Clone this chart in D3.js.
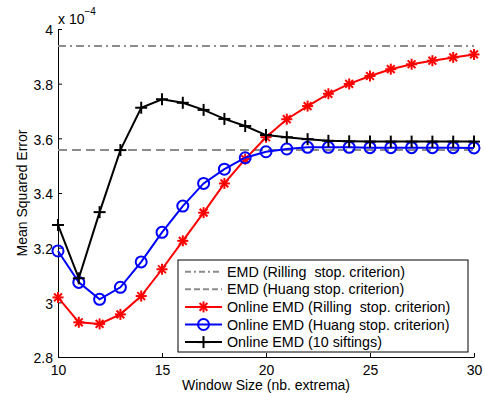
<!DOCTYPE html>
<html>
<head>
<meta charset="utf-8">
<script src="https://cdn.jsdelivr.net/npm/d3@7"></script>
<style>
  body { margin: 0; background: #fff; }
  svg text { font-family: "Liberation Sans", Arial, sans-serif; white-space: pre; }
</style>
</head>
<body>
<div id="chart"></div>
<script>
// Window sizes (nb. extrema)
const windowSizes = d3.range(10, 31);

// Mean squared error, in units of 1e-4
const onlineRilling = [3.018, 2.927, 2.921, 2.956, 3.023, 3.121, 3.225, 3.328, 3.435, 3.524,
    3.604, 3.670, 3.718, 3.763, 3.799, 3.828, 3.853, 3.871, 3.884, 3.896, 3.907];
const onlineHuang = [3.188, 3.073, 3.011, 3.055, 3.148, 3.256, 3.352, 3.435, 3.487, 3.529,
    3.551, 3.561, 3.567, 3.567, 3.567, 3.566, 3.566, 3.566, 3.566, 3.566, 3.565];
const onlineSift10 = [3.283, 3.088, 3.330, 3.557, 3.712, 3.743, 3.730, 3.704, 3.671, 3.645,
    3.612, 3.604, 3.597, 3.591, 3.589, 3.588, 3.588, 3.588, 3.588, 3.588, 3.588];
const emdRilling = 3.938;
const emdHuang = 3.557;

const xTicks = [10, 15, 20, 25, 30];
const yTicks = [2.8, 3, 3.2, 3.4, 3.6, 3.8, 4];

const legendLabels = [
    "EMD (Rilling  stop. criterion)",
    "EMD (Huang stop. criterion)",
    "Online EMD (Rilling  stop. criterion)",
    "Online EMD (Huang stop. criterion)",
    "Online EMD (10 siftings)"
];

const chartSettings = {
    width: 485,
    height: 393,
    left: 58,
    right: 474,
    top: 29,
    bottom: 357,
};

const x = d3.scaleLinear().domain([10, 30]).range([chartSettings.left, chartSettings.right]);
const y = d3.scaleLinear().domain([2.8, 4]).range([chartSettings.bottom, chartSettings.top]);

const svg = d3.select("#chart").append("svg")
    .attr("width", chartSettings.width)
    .attr("height", chartSettings.height);

// axes, ticks pointing inward
const xAxis = svg.append("g")
    .attr("transform", `translate(0,${chartSettings.bottom})`)
    .call(d3.axisBottom(x).tickValues(xTicks).tickSizeInner(-4).tickSizeOuter(0).tickPadding(8));
const yAxis = svg.append("g")
    .attr("transform", `translate(${chartSettings.left},0)`)
    .call(d3.axisLeft(y).tickValues(yTicks).tickSizeInner(-4).tickSizeOuter(0).tickPadding(5)
        .tickFormat(d3.format("~g")));

[xAxis, yAxis].forEach(a => {
    a.select(".domain").attr("stroke", "#000").attr("stroke-width", 1);
    a.selectAll(".tick line").attr("stroke", "#000");
    a.selectAll(".tick text").attr("font-size", 14).attr("fill", "#000");
});
yAxis.selectAll(".tick text").attr("dy", "0.42em");

// exponent label
const expo = svg.append("text")
    .attr("x", chartSettings.left)
    .attr("y", 24)
    .attr("font-size", 14);
expo.append("tspan").text("x 10");
expo.append("tspan").attr("dy", -9).attr("font-size", 10).text("\u22124");

// axis titles
svg.append("text")
    .attr("x", 266)
    .attr("y", 390)
    .attr("text-anchor", "middle")
    .attr("font-size", 14)
    .text("Window Size (nb. extrema)");

svg.append("text")
    .attr("transform", `translate(27,${(chartSettings.top + chartSettings.bottom) / 2}) rotate(-90)`)
    .attr("text-anchor", "middle")
    .attr("font-size", 14)
    .text("Mean Squared Error");

// reference lines
svg.append("line")
    .attr("x1", x(10)).attr("x2", x(30))
    .attr("y1", y(emdRilling)).attr("y2", y(emdRilling))
    .attr("stroke", "#8c8c8c").attr("stroke-width", 2)
    .attr("stroke-dasharray", "8,4,2,4");
svg.append("line")
    .attr("x1", x(10)).attr("x2", x(30))
    .attr("y1", y(emdHuang)).attr("y2", y(emdHuang))
    .attr("stroke", "#8c8c8c").attr("stroke-width", 2)
    .attr("stroke-dasharray", "9,5");

const line = d3.line().x((d, i) => x(windowSizes[i])).y(d => y(d));

// marker drawers
const markers = {
    star: (g, cx, cy, color) => {
        const r = 5.5;
        [0, 45, 90, 135].forEach(a => {
            const rad = a * Math.PI / 180;
            g.append("line")
                .attr("x1", cx - r * Math.cos(rad)).attr("y1", cy - r * Math.sin(rad))
                .attr("x2", cx + r * Math.cos(rad)).attr("y2", cy + r * Math.sin(rad))
                .attr("stroke", color).attr("stroke-width", 2);
        });
    },
    circle: (g, cx, cy, color) => {
        g.append("circle").attr("cx", cx).attr("cy", cy).attr("r", 5.5)
            .attr("fill", "none").attr("stroke", color).attr("stroke-width", 2);
    },
    plus: (g, cx, cy, color) => {
        const r = 6;
        g.append("line").attr("x1", cx - r).attr("x2", cx + r).attr("y1", cy).attr("y2", cy)
            .attr("stroke", color).attr("stroke-width", 2);
        g.append("line").attr("x1", cx).attr("x2", cx).attr("y1", cy - r).attr("y2", cy + r)
            .attr("stroke", color).attr("stroke-width", 2);
    }
};

const series = [
    { values: onlineRilling, color: "#ff0000", marker: "star" },
    { values: onlineHuang, color: "#0000ff", marker: "circle" },
    { values: onlineSift10, color: "#000000", marker: "plus" },
];

series.forEach(s => {
    svg.append("path")
        .attr("d", line(s.values))
        .attr("fill", "none")
        .attr("stroke", s.color)
        .attr("stroke-width", 2);
    const g = svg.append("g");
    s.values.forEach((v, i) => markers[s.marker](g, x(windowSizes[i]), y(v), s.color));
});

// legend
const legend = svg.append("g").attr("transform", "translate(178,260)");
legend.append("rect")
    .attr("width", 290).attr("height", 92)
    .attr("fill", "#fff").attr("stroke", "#000").attr("stroke-width", 1);

const legendStyles = [
    { color: "#8c8c8c", dash: "6,3,2,3" },
    { color: "#8c8c8c", dash: "6,3" },
    { color: "#ff0000", marker: "star" },
    { color: "#0000ff", marker: "circle" },
    { color: "#000000", marker: "plus" },
];

legendLabels.forEach((label, i) => {
    const ly = 11.7 + i * 17.6;
    const st = legendStyles[i];
    legend.append("line")
        .attr("x1", 7).attr("x2", 44).attr("y1", ly).attr("y2", ly)
        .attr("stroke", st.color).attr("stroke-width", 2)
        .attr("stroke-dasharray", st.dash || null);
    if (st.marker) markers[st.marker](legend, 25.5, ly, st.color);
    legend.append("text")
        .attr("x", 49).attr("y", ly + 5)
        .attr("font-size", 14.3)
        .text(label);
});
</script>
</body>
</html>
